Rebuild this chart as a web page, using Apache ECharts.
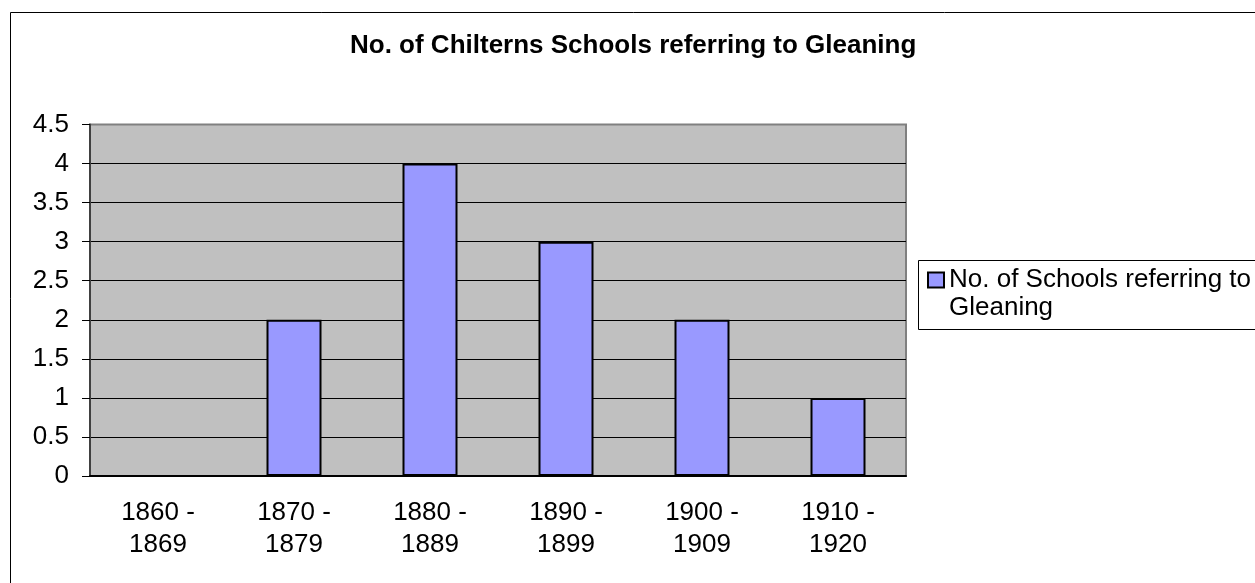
<!DOCTYPE html>
<html>
<head>
<meta charset="utf-8">
<title>No. of Chilterns Schools referring to Gleaning</title>
<script src="https://cdn.jsdelivr.net/npm/echarts@6/dist/echarts.min.js"></script>
<style>
  html, body { margin: 0; padding: 0; background: #fff; }
  #chart { width: 1255px; height: 583px; }
</style>
</head>
<body>
<div id="chart"></div>
<script>
// decades on the x axis
const decades = ['1860 -\n1869', '1870 -\n1879', '1880 -\n1889', '1890 -\n1899', '1900 -\n1909', '1910 -\n1920']
// number of schools per decade
const schoolCounts = [0, 2, 4, 3, 2, 1]
const seriesName = 'No. of Schools referring to\nGleaning'
const chartTitle = 'No. of Chilterns Schools referring to Gleaning'

const font = '"Liberation Sans", Arial, sans-serif'

const chart = echarts.init(document.getElementById('chart'))

const option = {
  animation: false,
  backgroundColor: '#fff',
  title: {
    text: chartTitle,
    left: 350,
    top: 33,
    padding: 0,
    textStyle: {
      fontFamily: font,
      fontSize: 26,
      fontWeight: 'bold',
      color: '#000',
    },
  },
  legend: {
    left: 927,
    top: 238,
    padding: 0,
    itemWidth: 16,
    itemHeight: 15,
    icon: 'rect',
    // empty first line keeps the icon level with the first text line
    formatter: (name) => '\n' + name,
    textStyle: {
      fontFamily: font,
      fontSize: 26,
      color: '#000',
      lineHeight: 28,
    },
    data: [seriesName],
  },
  grid: {
    left: 90,
    right: 349,
    top: 124.5,
    bottom: 107,
    show: true,
    backgroundColor: '#C0C0C0',
    borderColor: '#808080',
    borderWidth: 2,
  },
  xAxis: {
    type: 'category',
    data: decades,
    axisLine: {
      lineStyle: { color: '#000', width: 2 },
    },
    axisTick: {
      length: 8,
      lineStyle: { color: '#555', width: 1 },
    },
    axisLabel: {
      margin: 21,
      fontFamily: font,
      fontSize: 26,
      lineHeight: 32,
      color: '#000',
    },
  },
  yAxis: {
    type: 'value',
    min: 0,
    max: 4.5,
    interval: 0.5,
    axisLine: {
      show: true,
      lineStyle: { color: '#404040', width: 2 },
    },
    axisTick: {
      show: true,
      length: 8,
      lineStyle: { color: '#000', width: 1 },
    },
    axisLabel: {
      margin: 21,
      fontFamily: font,
      fontSize: 26,
      color: '#000',
    },
    splitLine: {
      show: true,
      showMaxLine: false,
      lineStyle: { color: '#000', width: 1 },
    },
  },
  series: [
    {
      name: seriesName,
      type: 'bar',
      data: schoolCounts,
      barWidth: 55,
      itemStyle: {
        color: '#9999FF',
        borderColor: '#000',
        borderWidth: 2,
      },
    },
  ],
  graphic: [
    {
      type: 'rect',
      silent: true,
      shape: { x: 10.5, y: 12.5, width: 1300, height: 700 },
      style: { fill: 'none', stroke: '#000', lineWidth: 1 },
    },
    {
      type: 'rect',
      silent: true,
      shape: { x: 918.5, y: 260.5, width: 400, height: 69 },
      style: { fill: 'none', stroke: '#000', lineWidth: 1 },
    },
  ],
}

chart.setOption(option)
</script>
</body>
</html>
